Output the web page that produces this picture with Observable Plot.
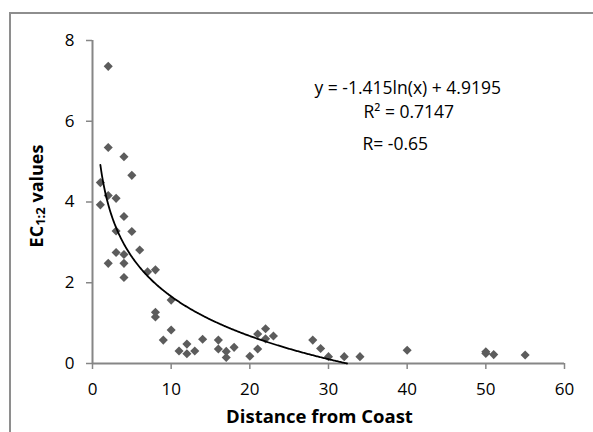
<!DOCTYPE html>
<html>
<head>
<meta charset="utf-8">
<script src="https://cdn.jsdelivr.net/npm/d3@7"></script>
<script src="https://cdn.jsdelivr.net/npm/@observablehq/plot@0.6"></script>
<style>
  html, body { margin: 0; padding: 0; background: #fff; }
  #wrap { position: relative; width: 593px; height: 432px; overflow: hidden; }
  #frame { position: absolute; left: 9px; top: 12px; width: 600px; height: 440px;
           border-left: 2px solid #8e8e8e; border-top: 2px solid #8e8e8e; box-sizing: border-box; }
  #chart { position: absolute; left: 0; top: 0; }
  #chart g[aria-label$="tick label"] text { font-size: 17px !important; }
</style>
</head>
<body>
<div id="wrap"><div id="frame"></div><div id="chart"></div></div>
<script>
// Data
const distance = [2, 2, 4, 5, 1, 1, 2, 3, 4, 3, 5, 3, 4, 6, 2, 4, 4, 7, 8, 8, 8, 10, 10, 9, 11, 12, 12, 13, 14, 16, 16, 17, 17, 18, 20, 21, 21, 22, 22, 23, 28, 29, 30, 32, 34, 40, 50, 50, 51, 55];
const ecValues = [7.36, 5.35, 5.12, 4.66, 4.48, 3.93, 4.16, 4.09, 3.64, 3.28, 3.27, 2.75, 2.70, 2.81, 2.48, 2.48, 2.13, 2.27, 2.32, 1.27, 1.15, 1.57, 0.83, 0.58, 0.31, 0.48, 0.24, 0.31, 0.60, 0.58, 0.36, 0.15, 0.30, 0.40, 0.18, 0.36, 0.73, 0.86, 0.61, 0.68, 0.58, 0.37, 0.17, 0.17, 0.17, 0.33, 0.29, 0.25, 0.22, 0.21];
const xTicks = [0, 10, 20, 30, 40, 50, 60];
const yTicks = [0, 2, 4, 6, 8];
// Logarithmic trendline as stated on the chart: y = a ln(x) + b
const trendA = -1.415;
const trendB = 4.9195;
const equationLabel = "y = -1.415ln(x) + 4.9195";
const r2Label = "R² = 0.7147";
const rLabel = "R= -0.65";
const xTitle = "Distance from Coast";

const points = distance.map((d, i) => ({x: d, y: ecValues[i]}));
const xEnd = Math.exp(trendB / -trendA);
const trend = d3.range(1, xEnd, 0.1).concat([xEnd]).map(x => ({x, y: trendA * Math.log(x) + trendB}));

const axisColor = "#868686";
const font = "'Open Sans', sans-serif";

const chart = Plot.plot({
  width: 593,
  height: 432,
  marginLeft: 92,
  marginRight: 29,
  marginTop: 40,
  marginBottom: 69,
  style: {fontFamily: font, fontSize: "17px", color: "#000", background: "transparent"},
  x: {domain: [0, 60], ticks: xTicks},
  y: {domain: [0, 8], ticks: yTicks},
  marks: [
    Plot.axisX({ticks: xTicks, tickSize: 6, tickPadding: 13, stroke: axisColor, strokeWidth: 1.5, label: null, fontSize: 17}),
    Plot.axisY({ticks: yTicks, tickSize: 6, tickPadding: 12, stroke: axisColor, strokeWidth: 1.5, label: null, fontSize: 17}),
    Plot.ruleY([0], {stroke: axisColor, strokeWidth: 2}),
    Plot.ruleX([0], {stroke: axisColor, strokeWidth: 2}),
    Plot.dot(points, {x: "x", y: "y", symbol: "diamond2", r: 4.1, fill: "#5c5c5c", stroke: "none"}),
    Plot.line(trend, {x: "x", y: "y", stroke: "#000", strokeWidth: 1.8}),
    Plot.text([equationLabel], {frameAnchor: "top-left", textAnchor: "start", lineAnchor: "bottom", dx: 222, dy: 53, fontSize: 17.5, fill: "#000"}),
    Plot.text([r2Label], {frameAnchor: "top-left", textAnchor: "start", lineAnchor: "bottom", dx: 271, dy: 77, fontSize: 17.5, fill: "#000"}),
    Plot.text([rLabel], {frameAnchor: "top-left", textAnchor: "start", lineAnchor: "bottom", dx: 270, dy: 109, fontSize: 17.5, fill: "#000"}),
    Plot.text([xTitle], {frameAnchor: "bottom", textAnchor: "middle", lineAnchor: "bottom", dx: -9, dy: 59, fontSize: 18.5, fontWeight: "bold", fill: "#000"})
  ]
});

document.getElementById("chart").appendChild(chart);

// Y-axis title with subscript
const svg = d3.select(chart);
const yt = svg.append("text")
  .attr("transform", "translate(36,196) rotate(-90)")
  .attr("text-anchor", "middle")
  .attr("dominant-baseline", "central")
  .attr("font-family", font)
  .attr("font-size", 18)
  .attr("font-weight", "bold")
  .attr("fill", "#000");
yt.append("tspan").text("EC");
yt.append("tspan").attr("font-size", 13).attr("dy", 4).text("1:2");
yt.append("tspan").attr("dy", -4).text(" values");
</script>
</body>
</html>
